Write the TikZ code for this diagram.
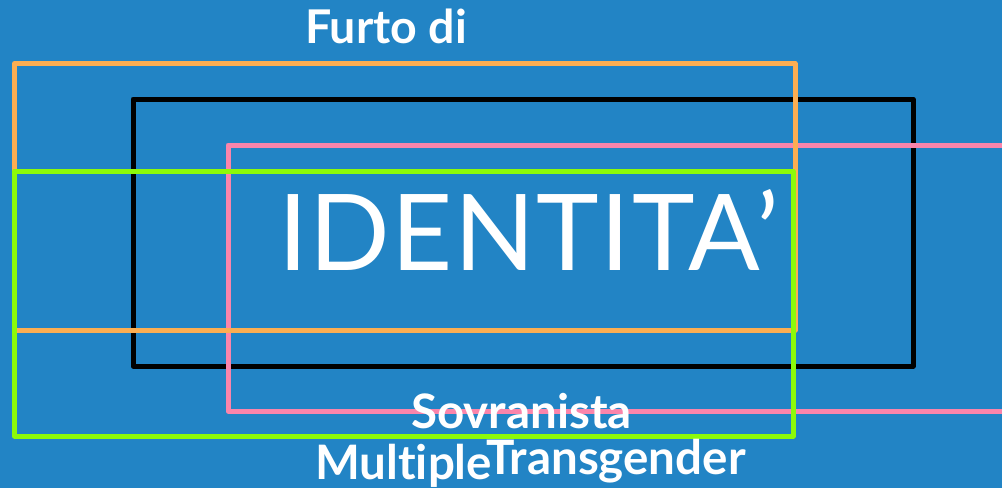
\documentclass[tikz,border=0pt]{standalone}
\usepackage{fontspec}
\setmainfont{Lato}[Ligatures=NoCommon]
\newfontfamily\titlefont{Lato}[Ligatures=NoCommon, LetterSpace=1.4]
\definecolor{bgblue}{HTML}{2284C5}
\definecolor{borange}{HTML}{FCAE52}
\definecolor{bpink}{HTML}{FA85AB}
\definecolor{bgreen}{HTML}{8CFA0A}
\tikzset{
  frame/.style={line width=5pt, line join=round},
  lbl/.style={text=white, font=\bfseries\fontsize{47.5}{52}\selectfont, inner sep=0pt, anchor=base west},
  title/.style={text=white, font=\titlefont\fontsize{106}{112}\selectfont, inner sep=0pt, anchor=base west}
}
\begin{document}
\begin{tikzpicture}[x=1pt,y=-1pt]
\useasboundingbox (0,0) rectangle (1002,488);
\fill[bgblue] (0,0) rectangle (1002,488);
\clip (0,0) rectangle (1002,488);
\draw[frame, black] (133,99) rectangle (913,366);
\draw[frame, bpink] (228,145) rectangle (1020,411);
\draw[frame, borange] (14.5,63.5) rectangle (795,330);
\draw[frame, bgreen] (14.5,171) rectangle (793,436);
\node[title] (ident) at (278,270) {IDENTITA’};
\node[lbl, font=\bfseries\fontsize{46.5}{52}\selectfont] (furto) at (305,43) {Furto di};
\node[lbl] (sovr) at (411,428) {Sovranista};
\node[lbl] (mult) at (315,479) {Multiple};
\node[lbl] (trans) at (486,474) {Transgender};
\end{tikzpicture}
\end{document}
